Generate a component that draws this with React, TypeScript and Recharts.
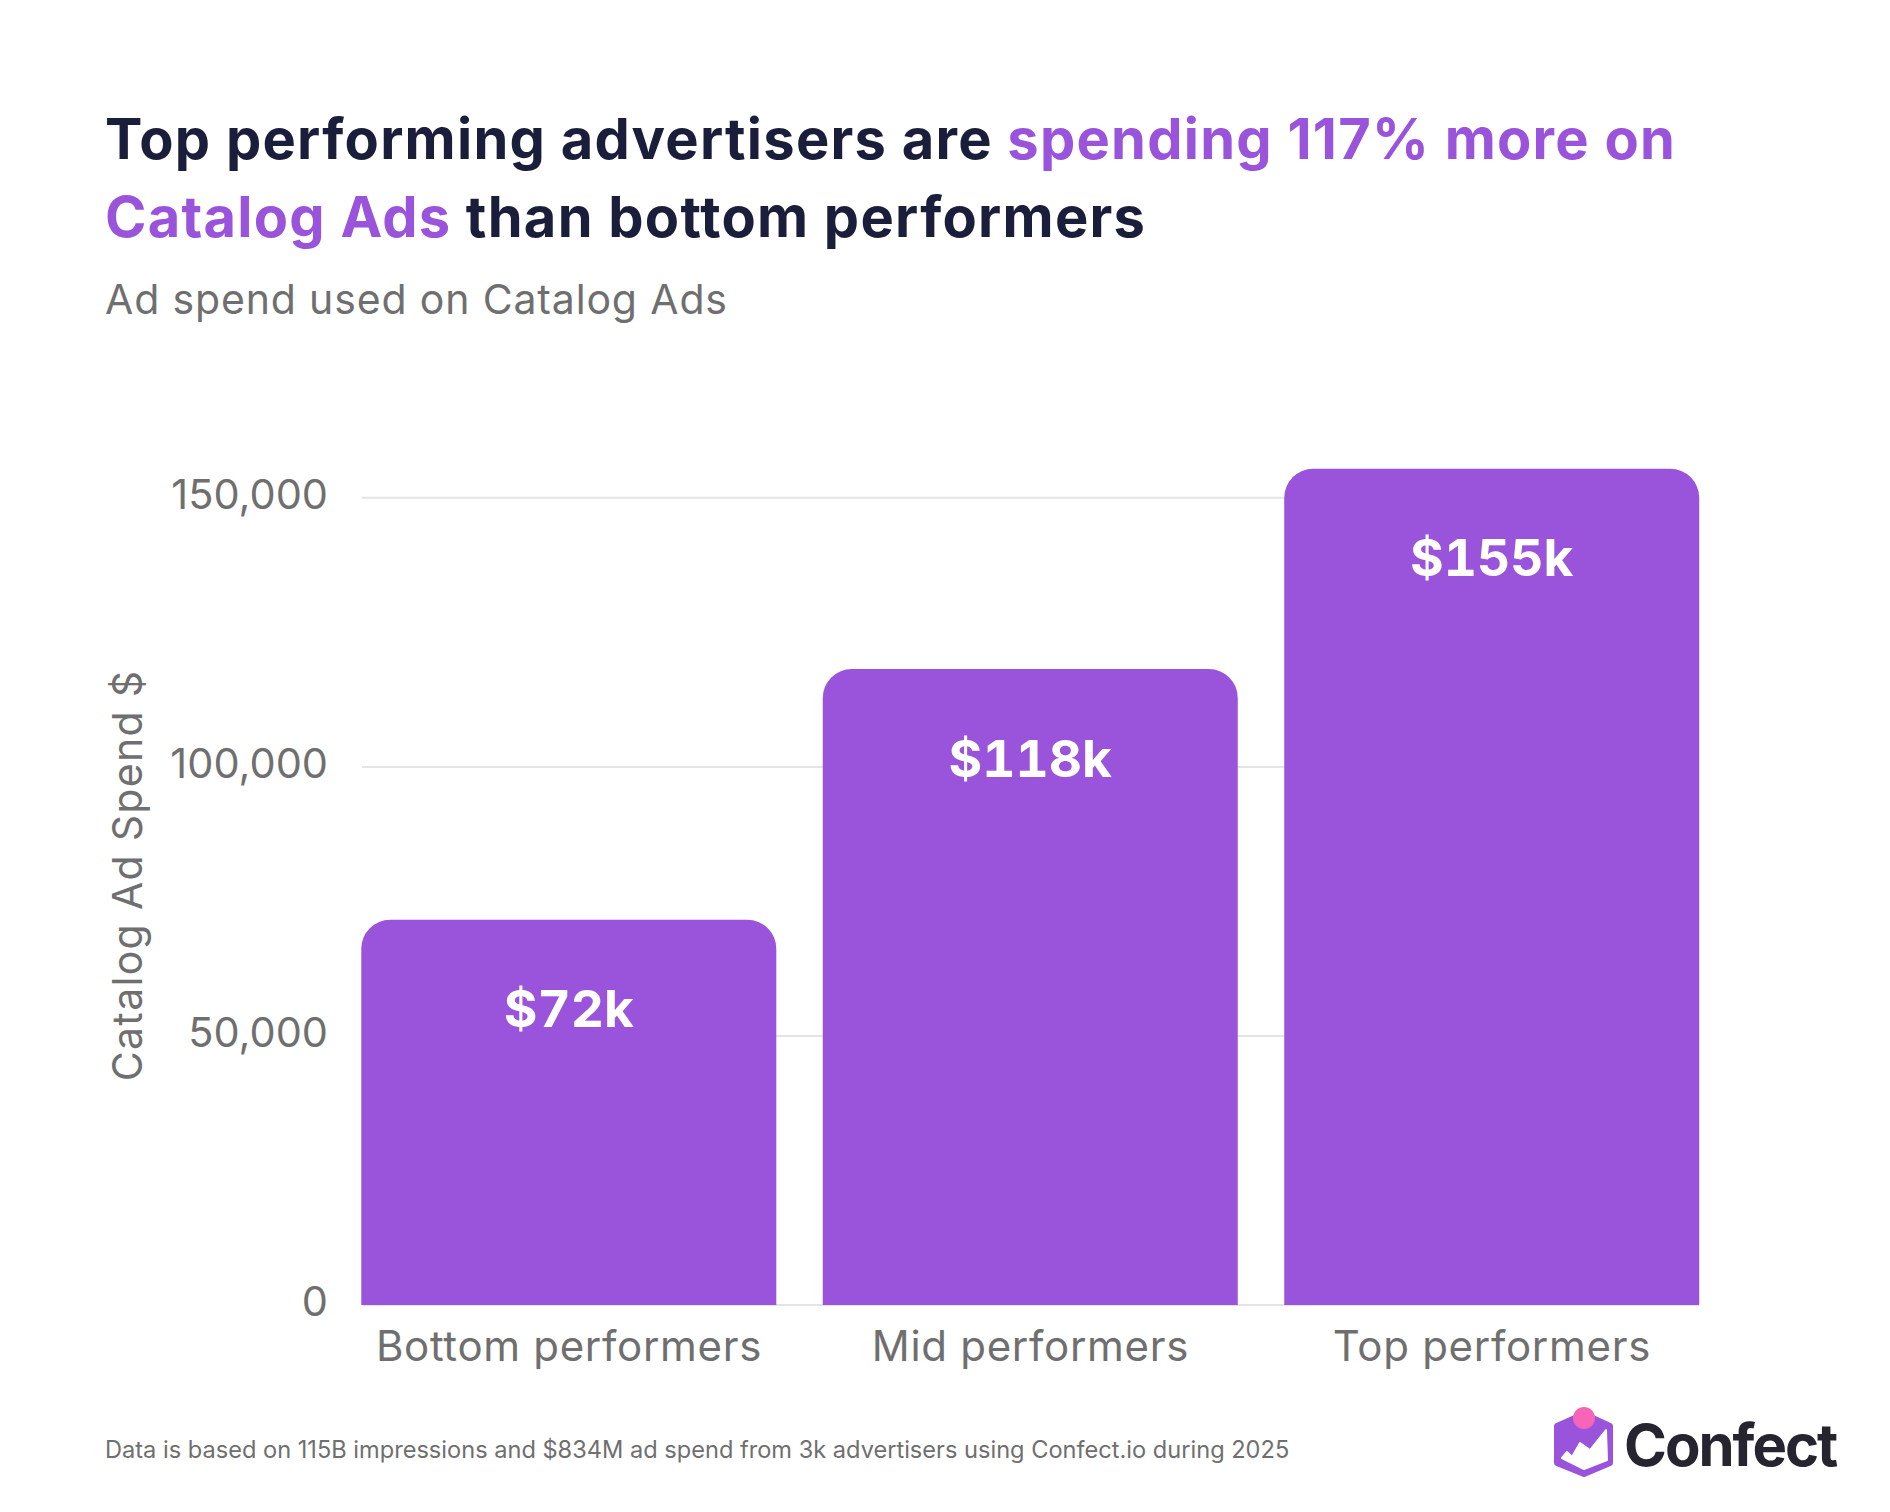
import React from "react";
import { Bar, BarChart, CartesianGrid, LabelList, XAxis, YAxis } from "recharts";

const categories = ["Bottom performers", "Mid performers", "Top performers"];
const spend = [71600, 118200, 155400];
const barLabels = ["$72k", "$118k", "$155k"];
const yTicks = [0, 50000, 100000, 150000];

const data = categories.map((name, i) => ({ name, spend: spend[i], label: barLabels[i] }));

const PURPLE = "#9A54DB";
const NAVY = "#1A1E3A";
const GREY = "#6F6F6F";
const FONT = "Inter, sans-serif";

const abs = (left: number, top: number, style: React.CSSProperties): React.CSSProperties => ({
  position: "absolute",
  left,
  top,
  whiteSpace: "nowrap",
  fontFamily: FONT,
  ...style,
});

function Logo() {
  return (
    <svg width={70} height={76} viewBox="0 0 70 76" style={{ position: "absolute", left: 1550, top: 1405 }}>
      <polygon
        points="34,9 60,21 60,58 34,69 7,58 7,21"
        fill={PURPLE}
        stroke={PURPLE}
        strokeWidth={6}
        strokeLinejoin="round"
      />
      <polygon points="12,53 17,47 22,52 30,38 40,45 56,25 57,55 34,64" fill="#fff" stroke="#fff" strokeWidth={2} strokeLinejoin="round" />
      <circle cx={34} cy={13} r={11} fill="#F765B8" />
    </svg>
  );
}

export default function App() {
  const titleStyle: React.CSSProperties = {
    fontSize: 56,
    fontWeight: 700,
    lineHeight: "78px",
    color: NAVY,
    letterSpacing: 1.25,
  };
  return (
    <div style={{ position: "absolute", left: 0, top: 0, width: 1890, height: 1512, background: "#fff", overflow: "hidden" }}>
      <div style={abs(105, 100, titleStyle)}>
        Top performing advertisers are <span style={{ color: PURPLE }}>spending 117% more on</span>
      </div>
      <div style={abs(105, 178, titleStyle)}>
        <span style={{ color: PURPLE }}>Catalog Ads</span> than bottom performers
      </div>
      <div style={abs(105, 272, { fontSize: 41, lineHeight: "54px", color: GREY, letterSpacing: 0.85 })}>
        Ad spend used on Catalog Ads
      </div>

      <BarChart
        width={1890}
        height={1512}
        data={data}
        margin={{ top: 444, right: 191, bottom: 0, left: 0 }}
        style={{ position: "absolute", left: 0, top: 0 }}
      >
        <CartesianGrid vertical={false} stroke="#E3E3E8" strokeWidth={2} syncWithTicks />
        <XAxis
          dataKey="name"
          height={207}
          axisLine={false}
          tickLine={false}
          padding={{ left: -23.7, right: -23.7 }}
          tick={{ fill: GREY, fontSize: 42, fontFamily: FONT, letterSpacing: 0.7 }}
          tickMargin={20}
          interval={0}
        />
        <YAxis
          width={362}
          domain={[0, 160000]}
          ticks={yTicks}
          axisLine={false}
          tickLine={false}
          tickMargin={28}
          tickFormatter={(v: number) => v.toLocaleString("en-US")}
          tick={{ fill: GREY, fontSize: 41.5, fontFamily: FONT, dy: -4 }}
          label={{
            value: "Catalog Ad Spend $",
            angle: -90,
            position: "insideLeft",
            dx: 122,
            dy: 1,
            style: { fill: GREY, fontSize: 41, fontFamily: FONT, textAnchor: "middle", letterSpacing: 1.3 },
          }}
        />
        <Bar dataKey="spend" fill={PURPLE} radius={[29, 29, 0, 0]} barSize={415} isAnimationActive={false}>
          <LabelList
            dataKey="label"
            position="insideTop"
            offset={71}
            style={{ fill: "#fff", fontSize: 51.5, fontWeight: 700, fontFamily: FONT, fontVariantNumeric: "tabular-nums" }}
          />
        </Bar>
      </BarChart>

      <div style={abs(105, 1434, { fontSize: 23.6, lineHeight: "32px", color: GREY })}>
        Data is based on 115B impressions and $834M ad spend from 3k advertisers using Confect.io during 2025
      </div>
      <Logo />
      <div style={abs(1624, 1409, { fontSize: 58, fontWeight: 700, lineHeight: "72px", color: "#26242E", letterSpacing: -2 })}>
        Confect
      </div>
    </div>
  );
}
